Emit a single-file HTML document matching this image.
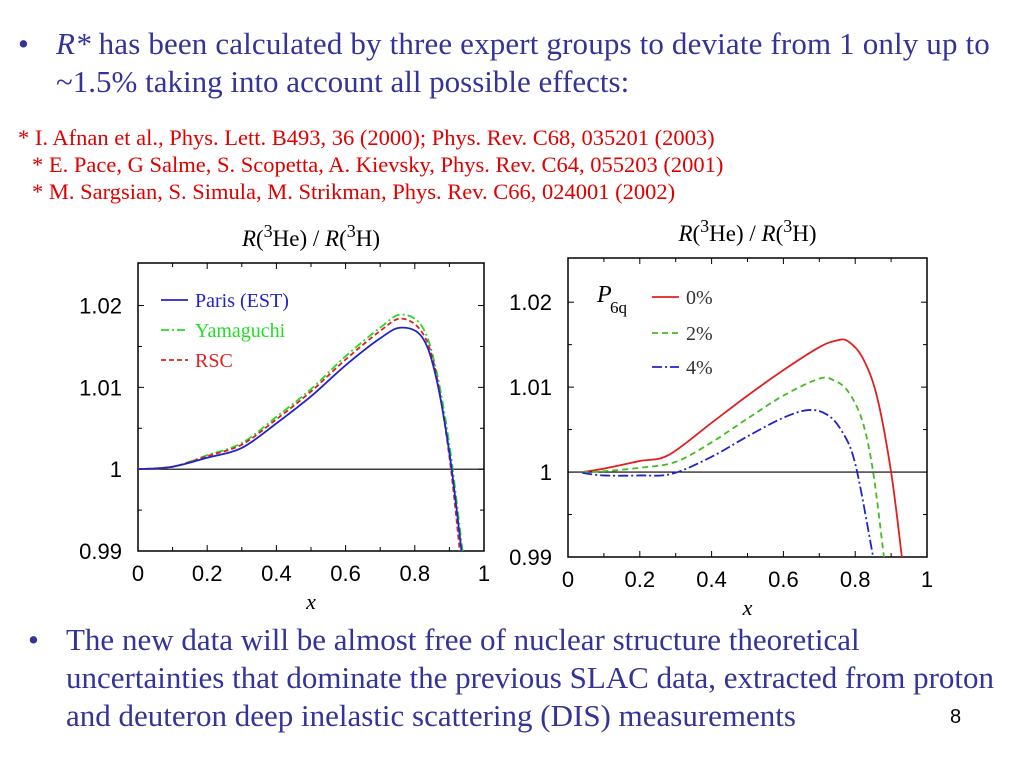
<!DOCTYPE html>
<html><head><meta charset="utf-8"><style>
body{margin:0;width:1024px;height:768px;background:#fff;overflow:hidden;position:relative;font-family:"Liberation Serif",serif}
.t{position:absolute;color:#333399;font-size:31px;white-space:nowrap;line-height:1}
.r{position:absolute;color:#e00000;font-size:22.5px;white-space:nowrap;line-height:1}
svg{position:absolute;left:0;top:0}
</style></head><body>
<div class="t" style="left:18px;top:28px">•</div>
<div class="t" style="left:56px;top:28px;letter-spacing:0.15px"><i>R*</i> has been calculated by three expert groups to deviate from 1 only up to</div>
<div class="t" style="left:56px;top:66px">~1.5% taking into account all possible effects:</div>
<div class="r" style="left:18px;top:127px">* I. Afnan et al., Phys. Lett. B493, 36 (2000); Phys. Rev. C68, 035201 (2003)</div>
<div class="r" style="left:32px;top:154px">* E. Pace, G Salme, S. Scopetta, A. Kievsky, Phys. Rev. C64, 055203 (2001)</div>
<div class="r" style="left:32px;top:181px">* M. Sargsian, S. Simula, M. Strikman, Phys. Rev. C66, 024001 (2002)</div>
<div class="t" style="left:28px;top:624px">•</div>
<div class="t" style="left:66px;top:624px">The new data will be almost free of nuclear structure theoretical</div>
<div class="t" style="left:66px;top:662px">uncertainties that dominate the previous SLAC data, extracted from proton</div>
<div class="t" style="left:66px;top:700px">and deuteron deep inelastic scattering (DIS) measurements</div>
<div style="position:absolute;left:950px;top:706px;font:20px 'Liberation Sans',sans-serif">8</div>
<svg id="s" width="1024" height="768"></svg>
<script>
const leftX=[0,0.1,0.2,0.3,0.4,0.5,0.6,0.7,0.76,0.82,0.86,0.9,0.935];
const paris=[1.0,1.0003,1.0014,1.0026,1.0056,1.0089,1.0127,1.0160,1.0173,1.0162,1.0115,1.002,0.99];
const yamaX=[0,0.1,0.2,0.3,0.4,0.5,0.6,0.7,0.76,0.82,0.86,0.9,0.938];
const yama=[1.0,1.0003,1.0017,1.0032,1.0064,1.0098,1.0138,1.0173,1.0189,1.0175,1.0125,1.003,0.99];
const rscX=[0,0.1,0.2,0.3,0.4,0.5,0.6,0.7,0.76,0.82,0.86,0.9,0.93];
const rsc=[1.0,1.0003,1.0016,1.0030,1.0061,1.0095,1.0134,1.0169,1.0184,1.0168,1.012,1.0015,0.99];
const p0X=[0.04,0.1,0.2,0.28,0.4,0.5,0.6,0.7,0.75,0.78,0.82,0.86,0.9,0.93];
const p0=[1.0,1.0004,1.0013,1.002,1.0058,1.009,1.012,1.0147,1.0155,1.0154,1.0135,1.009,1.0,0.99];
const p2X=[0.04,0.1,0.2,0.3,0.4,0.5,0.6,0.7,0.74,0.78,0.82,0.85,0.88];
const p2=[1.0,1.0001,1.0005,1.0012,1.0035,1.0063,1.009,1.011,1.0108,1.0095,1.006,1.0,0.99];
const p4X=[0.04,0.1,0.2,0.29,0.4,0.5,0.6,0.67,0.72,0.76,0.8,0.85];
const p4=[0.9999,0.9996,0.9996,0.9998,1.0018,1.0042,1.0064,1.0073,1.0068,1.005,1.001,0.99];
const yTicks=[0.99,1,1.01,1.02];const yLabels=["0.99","1","1.01","1.02"];
const xTicks=[0,0.2,0.4,0.6,0.8,1];const xLabels=["0","0.2","0.4","0.6","0.8","1"];
const S=document.getElementById('s');const NS='http://www.w3.org/2000/svg';
function mk(t,a,txt){const e=document.createElementNS(NS,t);for(const k in a)e.setAttribute(k,a[k]);if(txt!=null)e.textContent=txt;S.appendChild(e);return e;}
function chart(L,R,T,B,name){
 const ymin=0.99,ymax=1.0252;
 const sx=x=>L+(R-L)*x, sy=y=>B-(B-T)*(y-ymin)/(ymax-ymin);
 let fr=mk('rect',{x:L,y:T,width:R-L,height:B-T,fill:'none',stroke:'#000','stroke-width':1.5});
 
 yTicks.forEach((v,i)=>{const y=sy(v);
  mk('line',{x1:L,x2:L+6,y1:y,y2:y,stroke:'#000'});mk('line',{x1:R-6,x2:R,y1:y,y2:y,stroke:'#000'});
  let t=mk('text',{x:L-16,y:y+8,'text-anchor':'end','font-size':22,'font-family':'Liberation Sans,sans-serif'},yLabels[i]);
  });
 [0.995,1.005,1.015].forEach(v=>{const y=sy(v);mk('line',{x1:L,x2:L+4,y1:y,y2:y,stroke:'#000'});mk('line',{x1:R-4,x2:R,y1:y,y2:y,stroke:'#000'});});
 xTicks.forEach((v,i)=>{const x=sx(v);
  mk('line',{x1:x,x2:x,y1:B,y2:B-6,stroke:'#000'});mk('line',{x1:x,x2:x,y1:T,y2:T+6,stroke:'#000'});
  let t=mk('text',{x:x,y:B+30,'text-anchor':'middle','font-size':22,'font-family':'Liberation Sans,sans-serif'},xLabels[i]);
  });
 [0.1,0.3,0.5,0.7,0.9].forEach(v=>{const x=sx(v);mk('line',{x1:x,x2:x,y1:B,y2:B-4,stroke:'#000'});mk('line',{x1:x,x2:x,y1:T,y2:T+4,stroke:'#000'});});
 mk('line',{x1:L,x2:R,y1:sy(1),y2:sy(1),stroke:'#000','stroke-width':1.2});
 let xt=mk('text',{x:(L+R)/2,y:B+58,'text-anchor':'middle','font-size':22,'font-style':'italic','font-family':'Liberation Serif,serif'},'x');
 
 let tt=mk('text',{x:(L+R)/2,y:T-17,'text-anchor':'middle','font-size':23,'font-family':'Liberation Serif,serif'});
 tt.innerHTML='<tspan font-style="italic">R</tspan>(<tspan dy="-9" font-size="18">3</tspan><tspan dy="9">He) / </tspan><tspan font-style="italic">R</tspan>(<tspan dy="-9" font-size="18">3</tspan><tspan dy="9">H)</tspan>';
 
 return {sx,sy,L,T};
}
function series(c,xs,ys,col,dash,name){
 const pts=xs.map((x,i)=>[c.sx(x),c.sy(ys[i])]);
 let d='M'+pts[0].join(',');
 for(let i=1;i<pts.length;i++){const p0=pts[i-2]||pts[i-1],p1=pts[i-1],p2=pts[i],p3=pts[i+1]||p2;
  const c1=[p1[0]+(p2[0]-p0[0])/6,p1[1]+(p2[1]-p0[1])/6],c2=[p2[0]-(p3[0]-p1[0])/6,p2[1]-(p3[1]-p1[1])/6];
  d+=' C'+c1.join(',')+' '+c2.join(',')+' '+p2.join(',');}
 let e=mk('path',{d:d,fill:'none',stroke:col,'stroke-width':1.8,'stroke-dasharray':dash});
 
}
function leg(x,y,col,dash,label,name,tcol){
 let l=mk('line',{x1:x,x2:x+27,y1:y,y2:y,stroke:col,'stroke-width':1.8,'stroke-dasharray':dash});
 
 let t=mk('text',{x:x+34,y:y+7,'font-size':20,fill:tcol||col,'font-family':'Liberation Serif,serif'},label);
 
}
const c1=chart(138,484,263,551,'left-chart');
series(c1,yamaX,yama,'#22dd22','8,3,2,3','yamaguchi-line');
series(c1,rscX,rsc,'#dd2222','5,3','rsc-line');
series(c1,leftX,paris,'#2222cc','','paris-line');
leg(161,300,'#2222cc','','Paris (EST)','legend-paris');
leg(161,330,'#22dd22','8,3,2,3','Yamaguchi','legend-yamaguchi');
leg(161,360,'#dd2222','5,3','RSC','legend-rsc');
const c2=chart(568,927,258,557,'right-chart');
series(c2,p0X,p0,'#e02020','','p6q-0-line');
series(c2,p2X,p2,'#44bb22','6,4','p6q-2-line');
series(c2,p4X,p4,'#2222cc','10,3,2,3','p6q-4-line');
let pl=mk('text',{x:597,y:302,'font-size':24,'font-style':'italic','font-family':'Liberation Serif,serif'},'P');

mk('text',{x:610,y:313,'font-size':17,'font-family':'Liberation Serif,serif'},'6q');
leg(652,297,'#e02020','','0%','legend-0pct','#333');
leg(652,333,'#44bb22','6,4','2%','legend-2pct','#333');
leg(652,367,'#2222cc','10,3,2,3','4%','legend-4pct','#333');
</script>
</body></html>
